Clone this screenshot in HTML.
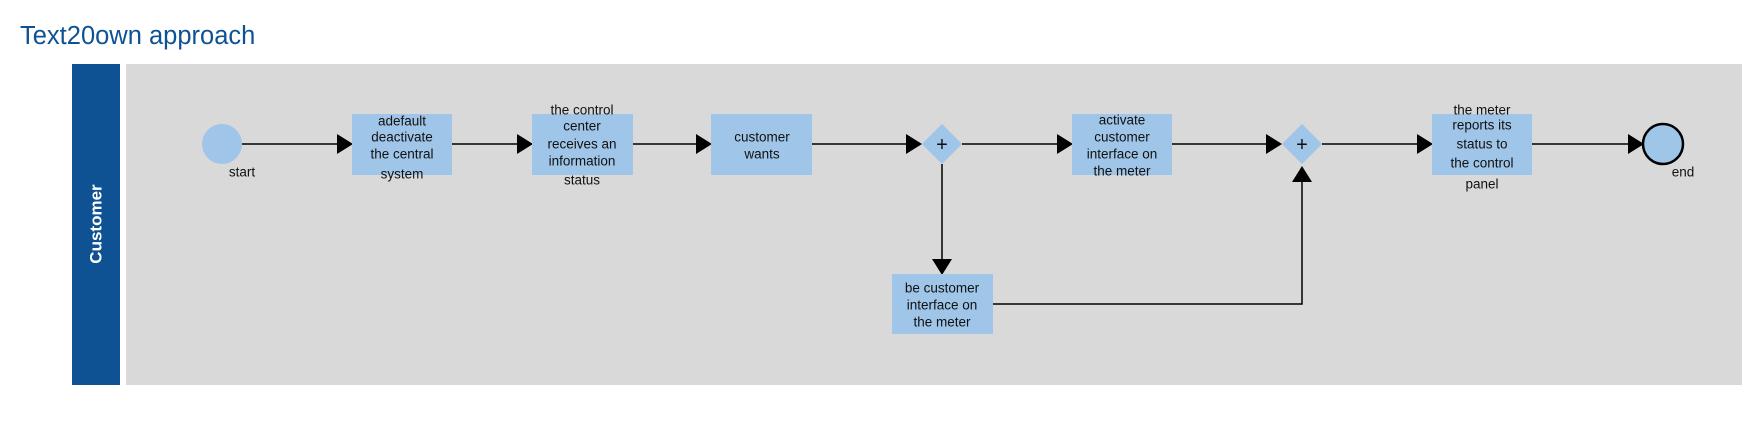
<!DOCTYPE html>
<html><head><meta charset="utf-8"><style>
html,body{margin:0;padding:0;background:#fff;width:1759px;height:426px;overflow:hidden}
svg{display:block;font-family:"Liberation Sans",Arial,sans-serif}
</style></head><body>
<svg width="1759" height="426" viewBox="0 0 1759 426" xmlns="http://www.w3.org/2000/svg">
<text x="20" y="36" font-size="25.5" fill="#0e5294" dominant-baseline="central">Text20own approach</text>
<rect x="72" y="64" width="48" height="321" fill="#0e5294"/>
<rect x="126" y="64" width="1616" height="321" fill="#d9d9d9"/>
<text x="96" y="224" font-size="17" font-weight="bold" fill="#fff" text-anchor="middle" dominant-baseline="central" transform="rotate(-90 96 224)">Customer</text>
<g stroke="#000" stroke-width="1.5" fill="none">
<line x1="242" y1="144" x2="340" y2="144"/>
<line x1="452" y1="144" x2="520" y2="144"/>
<line x1="633" y1="144" x2="699" y2="144"/>
<line x1="812" y1="144" x2="908" y2="144"/>
<line x1="962" y1="144" x2="1060" y2="144"/>
<line x1="1172" y1="144" x2="1268" y2="144"/>
<line x1="1322" y1="144" x2="1420" y2="144"/>
<line x1="1532" y1="144" x2="1630" y2="144"/>
<line x1="942" y1="164" x2="942" y2="262"/>
<polyline points="993,304 1302,304 1302,180"/>
</g>
<g fill="#000">
<polygon points="337,134 353,144 337,154"/>
<polygon points="517,134 533,144 517,154"/>
<polygon points="696,134 712,144 696,154"/>
<polygon points="906,134 922,144 906,154"/>
<polygon points="1057,134 1073,144 1057,154"/>
<polygon points="1266,134 1282,144 1266,154"/>
<polygon points="1417,134 1433,144 1417,154"/>
<polygon points="1628,134 1644,144 1628,154"/>
<polygon points="932,259 942,275 952,259"/>
<polygon points="1292,182 1302,166 1312,182"/>
</g>
<circle cx="222" cy="144" r="20" fill="#9fc5e8"/>
<circle cx="1663" cy="144" r="20" fill="#9fc5e8" stroke="#000" stroke-width="2.5"/>
<g fill="#9fc5e8">
<rect x="352" y="114" width="100" height="61"/>
<rect x="532" y="114" width="101" height="61"/>
<rect x="711" y="114" width="101" height="61"/>
<rect x="1072" y="114" width="100" height="61"/>
<rect x="1432" y="114" width="100" height="61"/>
<rect x="892" y="274" width="101" height="60"/>
<polygon points="942,124 962,144 942,164 922,144"/>
<polygon points="1302,124 1322,144 1302,164 1282,144"/>
</g>
<g font-size="13.5" fill="#111" text-anchor="middle" dominant-baseline="central">
<text x="942" y="145" font-size="20">+</text>
<text x="1302" y="145" font-size="20">+</text>
<text x="242" y="172">start</text>
<text x="1683" y="172">end</text>
<text x="402" y="121">adefault</text><text x="402" y="137">deactivate</text><text x="402" y="154">the central</text><text x="402" y="174">system</text>
<text x="582" y="110">the control</text><text x="582" y="126">center</text><text x="582" y="144">receives an</text><text x="582" y="161">information</text><text x="582" y="180">status</text>
<text x="762" y="137">customer</text><text x="762" y="154">wants</text>
<text x="1122" y="120">activate</text><text x="1122" y="137">customer</text><text x="1122" y="154">interface on</text><text x="1122" y="171">the meter</text>
<text x="1482" y="110">the meter</text><text x="1482" y="125">reports its</text><text x="1482" y="144">status to</text><text x="1482" y="163">the control</text><text x="1482" y="184">panel</text>
<text x="942" y="288">be customer</text><text x="942" y="305">interface on</text><text x="942" y="322">the meter</text>
</g>
</svg>
</body></html>
